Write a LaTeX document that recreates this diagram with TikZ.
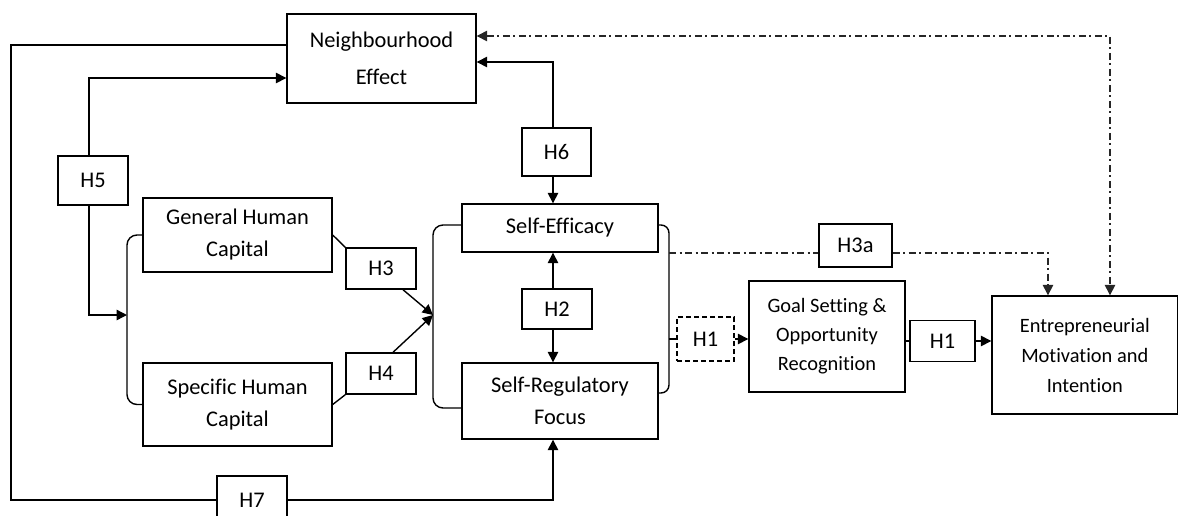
\documentclass[tikz,border=0pt]{standalone}
\usepackage{fontspec}
\setmainfont[Ligatures=CommonOff]{Carlito}
\usetikzlibrary{arrows.meta,calc}
\begin{document}
\begin{tikzpicture}[x=0.5pt,y=-0.5pt,line width=0.7pt,
  sz/.style 2 args={minimum width=#1*0.5pt,minimum height=#2*0.5pt},
  box/.style={draw,align=center,inner sep=0pt,font=\fontsize{11.2}{16}\selectfont},
  hb/.style={draw,inner sep=0pt,font=\fontsize{11.2}{13}\selectfont},
  tip/.tip={Triangle[length=5.2pt,width=5.2pt]},
  arr/.style={-tip},
  dd/.style={black!85,dash pattern=on 3.5pt off 1.75pt on 1pt off 1.75pt}]
\clip (0,0) rectangle (1178,515);
% construct boxes
\node[box,sz={189}{89},font=\fontsize{11.2}{18.5}\selectfont] (ne) at (381.5,58.5) {Neighbourhood\\Effect};
\node[box,sz={189}{74}] (ghc) at (237.5,235) {General Human\\Capital};
\node[box,sz={189}{83}] (shc) at (237.5,404.5) {Specific Human\\Capital};
\node[box,sz={196}{48}] (se) at (560,228) {Self-Efficacy};
\node[box,sz={196}{76}] (srf) at (560,401) {Self-Regulatory\\Focus};
\node[box,sz={156}{111},font=\fontsize{10.2}{14.5}\selectfont] (goal) at (827,336.5) {Goal Setting \&\\Opportunity\\Recognition};
\node[box,sz={185.5}{118},font=\fontsize{10.2}{15}\selectfont] (ent) at (1084.75,355) {Entrepreneurial\\Motivation and\\Intention};
% hypothesis labels
\node[hb,sz={70}{49}] (h5) at (93,180.5) {H5};
\node[hb,sz={69}{48}] (h6) at (556.5,152) {H6};
\node[hb,sz={70}{41}] (h3) at (381,268.5) {H3};
\node[hb,sz={70}{41}] (h4) at (381,373.5) {H4};
\node[hb,sz={70}{40}] (h2) at (557,309) {H2};
\node[hb,sz={57}{44},dash pattern=on 2.5pt off 1.5pt] (h1d) at (705.5,339) {H1};
\node[hb,sz={65}{41}] (h1) at (942.5,341) {H1};
\node[hb,sz={73}{43}] (h3a) at (855.5,245.5) {H3a};
\node[hb,sz={70}{48}] (h7) at (252,500) {H7};
% routing points
\coordinate (col) at (553,0);
\coordinate (c5) at (89,0);
\coordinate (bl) at (127,315);
\coordinate (ml) at (433,315);
\coordinate (mr) at (669,339);
\coordinate (lc) at (11,500);
\coordinate (c3a) at (1048,0);
\coordinate (cdd) at (1110,0);
% brackets grouping constructs
\draw[rounded corners=5pt] (ghc.west) -| (bl) |- (shc.west);
\draw[rounded corners=5pt] ([yshift=1.5pt]se.west) -| (ml) |- ([yshift=-3.5pt]srf.west);
\draw[rounded corners=4pt] ([yshift=1.5pt]se.east) -| (mr) |- ([yshift=4pt]srf.east);
% H5
\draw[arr] (h5.north -| c5) |- ([yshift=-9.75pt]ne.west);
\draw[arr] (h5.south -| c5) |- (bl);
% H6
\draw[arr] (h6.north -| col) |- ([yshift=-1.75pt]ne.east);
\draw[arr] (h6.south -| col) -- (se.north -| col);
% H2
\draw[arr] (h2.north -| col) -- (se.south -| col);
\draw[arr] (h2.south -| col) -- (srf.north -| col);
% H3, H4
\draw (ghc.east) -- (h3.north west);
\draw[arr] ([xshift=11pt]h3.south) -- (ml);
\draw (shc.east) -- (h4.south west);
\draw[arr] ([xshift=6pt]h4.north) -- (ml);
% H7
\draw ([yshift=6.75pt]ne.west) -| (lc) -- (h7.west);
\draw[arr] (h7.east) -| (srf.south -| col);
% H1 chain
\draw (mr) -- (h1d.west);
\draw[arr] (h1d.east) -- (h1d.east -| goal.west);
\draw (h1.west -| goal.east) -- (h1.west);
\draw[arr] (h1.east) -- (h1.east -| ent.west);
% H3a
\draw[dd] ([yshift=-3.75pt]h3a.west -| mr) -- ([yshift=-3.75pt]h3a.west);
\draw[dd,arr] ([yshift=-3.75pt]h3a.east) -| (ent.north -| c3a);
% neighbourhood link to motivation
\draw[dd,tip-tip] ([yshift=11.25pt]ne.east) -| (ent.north -| cdd);
\end{tikzpicture}
\end{document}
